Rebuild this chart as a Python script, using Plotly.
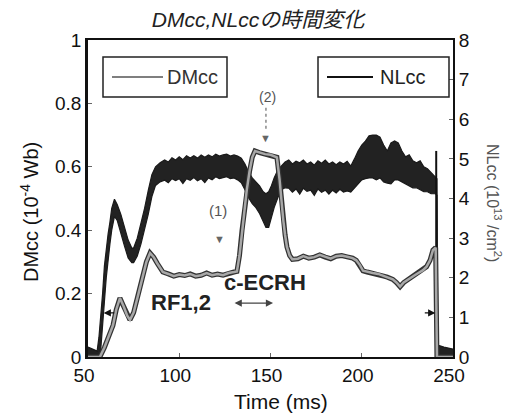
import plotly.graph_objects as go

# ---------------- data ----------------
# NLcc (right axis, 10^13 /cm^2): noisy thick band -> upper / lower edges
nl_t = [50, 53, 55, 56, 57, 58, 59, 60, 61, 62, 63, 64.5, 66, 68, 70, 72, 74, 75, 77, 79, 81, 83, 85, 87, 89.5,
        92, 94, 96, 98, 100, 102, 104, 106, 108, 110, 112, 114, 116, 118, 120, 122, 124, 126, 128, 130, 132, 134,
        136, 138, 140, 142, 144, 146, 147.5, 149, 150.5, 152, 154, 156, 158,
        160, 162, 164, 166, 168, 170, 172, 174, 176, 178, 180, 182, 184, 186, 188, 190, 192, 194,
        196, 198, 200, 202, 204, 206, 208, 210, 212, 214, 216, 218, 220, 222, 224, 226, 228, 230, 232, 234,
        236, 238, 240.5, 241.2, 241.6, 245, 250]
nl_hi = [0.25, 0.2, 0.15, 0.5, 1.0, 1.6, 2.3, 2.8, 3.1, 3.4, 3.75, 3.98, 3.85, 3.6, 3.3, 2.95, 2.75, 2.75, 3.0, 3.35,
         3.75, 4.2, 4.6, 4.8, 4.9,
         4.97, 4.92, 5.03, 4.97, 5.05, 4.98, 5.08, 5.02, 5.08, 5.02, 5.1, 5.04, 5.1, 5.05, 5.12, 5.07, 5.1, 5.12, 5.07,
         5.1, 5.07, 5.02,
         4.87, 4.67, 4.52, 4.42, 4.32, 4.17, 4.12, 4.17, 4.32, 4.52, 4.72, 4.82, 4.92,
         4.97, 4.87, 4.94, 4.9, 4.97, 4.87, 4.92, 4.84, 4.95, 4.89, 4.97, 4.87, 4.92, 4.85, 4.92, 4.87, 4.94, 4.82,
         5.0, 5.2, 5.35, 5.45, 5.58, 5.6, 5.6, 5.55, 5.35, 5.2, 5.4, 5.45, 5.4, 5.2, 5.05, 5.1, 4.95, 4.9, 4.95,
         4.8, 4.75, 4.65, 4.55, 4.5, 0.3, 0.25, 0.2]
nl_lo = [0.0, 0.0, 0.0, 0.0, 0.2, 0.7, 1.4, 2.0, 2.5, 2.85, 3.2, 3.55, 3.45, 3.1, 2.8, 2.5, 2.38, 2.38, 2.55, 2.85,
         3.2, 3.6, 4.05, 4.33, 4.42,
         4.46, 4.4, 4.5, 4.45, 4.5, 4.38, 4.5, 4.46, 4.53, 4.45, 4.5, 4.4, 4.52, 4.47, 4.55, 4.5, 4.53, 4.55, 4.5,
         4.52, 4.47, 4.4,
         4.22, 4.02, 3.87, 3.77, 3.62, 3.42, 3.27, 3.27, 3.52, 3.77, 4.02, 4.22, 4.27,
         4.26, 4.16, 4.24, 4.11, 4.26, 4.18, 4.21, 4.08, 4.24, 4.16, 4.21, 4.11, 4.21, 4.14, 4.23, 4.16, 4.19, 4.16,
         4.27, 4.37, 4.47, 4.5, 4.52, 4.52, 4.47, 4.52, 4.42, 4.39, 4.37, 4.47, 4.47, 4.42, 4.37, 4.32, 4.27, 4.27,
         4.22, 4.17, 4.17, 4.12, 4.12, 4.08, 0.0, 0.0, 0.0]
# thin NLcc spike at the end of the discharge
nl_spike_t = [240.8, 240.8]
nl_spike = [5.2, 0.0]

# DMcc (left axis, 10^-4 Wb)
dm_t = [50, 56.5, 59, 61.5, 63.7, 65.5, 67.5, 69.5, 71.5, 73, 75, 77, 79.6, 82, 84, 86, 88, 91, 94, 97, 100, 103,
        106, 109, 112, 115, 118, 121, 124, 127, 130, 131.6, 133, 134.4, 135.8, 137, 138.5, 140, 141.5, 144, 147,
        150, 153.5, 155, 156, 157, 158, 159, 160.5, 162, 165, 168, 171, 174, 177, 180, 183, 186, 189, 192, 195,
        197, 199, 200.7, 203, 206, 209, 212, 214, 217, 219, 221, 223, 226.4, 229, 231, 233.6, 235.5, 237.4, 239,
        240.5, 241.2, 250]
dm_v = [0, 0, 0.03, 0.065, 0.1, 0.15, 0.186, 0.16, 0.13, 0.117, 0.14, 0.185, 0.245, 0.30, 0.328, 0.315, 0.295,
        0.268, 0.262, 0.255, 0.26, 0.257, 0.262, 0.255, 0.258, 0.265, 0.258, 0.262, 0.258, 0.265, 0.268, 0.27,
        0.32, 0.40, 0.47, 0.527, 0.585, 0.63, 0.65, 0.645, 0.64, 0.638, 0.63, 0.558, 0.49, 0.432, 0.385, 0.347,
        0.32, 0.308, 0.31, 0.318, 0.312, 0.315, 0.322, 0.315, 0.31, 0.318, 0.32, 0.316, 0.312, 0.305, 0.29,
        0.272, 0.268, 0.265, 0.262, 0.255, 0.252, 0.245, 0.235, 0.222, 0.235, 0.249, 0.258, 0.265, 0.274, 0.285,
        0.305, 0.337, 0.345, 0.0, 0.0]

x_ticks = [50, 100, 150, 200, 250]
left_ticks = [0, 0.2, 0.4, 0.6, 0.8, 1]
left_labels = ["0", "0.2", "0.4", "0.6", "0.8", "1"]
right_ticks = [0, 1, 2, 3, 4, 5, 6, 7, 8]

FONT = "Liberation Sans, Arial, sans-serif"

fig = go.Figure()

# NLcc band (yaxis = right axis)
fig.add_trace(go.Scatter(x=nl_t, y=nl_lo, mode="lines", line=dict(color="#1a1a1a", width=1.2),
                         yaxis="y", showlegend=False, hoverinfo="skip"))
fig.add_trace(go.Scatter(x=nl_t, y=nl_hi, mode="lines", line=dict(color="#1a1a1a", width=1.2),
                         fill="tonexty", fillcolor="#222222", yaxis="y", name="NLcc", showlegend=False))
fig.add_trace(go.Scatter(x=nl_spike_t, y=nl_spike, mode="lines", line=dict(color="#111111", width=2),
                         yaxis="y", showlegend=False, hoverinfo="skip"))

# DMcc (yaxis2 = left axis): dark outline + gray core
fig.add_trace(go.Scatter(x=dm_t, y=dm_v, mode="lines", line=dict(color="#333333", width=5),
                         yaxis="y2", showlegend=False, hoverinfo="skip"))
fig.add_trace(go.Scatter(x=dm_t, y=dm_v, mode="lines", line=dict(color="#a8a8a8", width=2.5),
                         yaxis="y2", name="DMcc", showlegend=False))

W, H = 506, 415
L, R, T, B = 88, 53, 40, 58
PW, PH = W - L - R, H - T - B


def px(x):
    return (x - L) / PW


def py(y):
    return (H - B - y) / PH


shapes = [
    # legend boxes
    dict(type="rect", xref="paper", yref="paper", x0=px(103), x1=px(227), y0=py(97), y1=py(57),
         line=dict(color="#222", width=1.5), fillcolor="white"),
    dict(type="line", xref="paper", yref="paper", x0=px(112), x1=px(163), y0=py(77), y1=py(77),
         line=dict(color="#555", width=1.5)),
    dict(type="rect", xref="paper", yref="paper", x0=px(318), x1=px(449), y0=py(97), y1=py(57),
         line=dict(color="#222", width=1.5), fillcolor="white"),
    dict(type="line", xref="paper", yref="paper", x0=px(327), x1=px(373), y0=py(77), y1=py(77),
         line=dict(color="#111", width=2)),
    # dotted guide for (2)
    dict(type="line", xref="x", yref="y2", x0=147.5, x1=147.5, y0=0.72, y1=0.79,
         line=dict(color="#888", width=1.5, dash="dot")),
]

annotations = [
    dict(xref="paper", yref="paper", x=px(165), y=py(77), text="DMcc", showarrow=False,
         xanchor="left", yanchor="middle", font=dict(family=FONT, size=20, color="#333")),
    dict(xref="paper", yref="paper", x=px(378), y=py(77), text="NLcc", showarrow=False,
         xanchor="left", yanchor="middle", font=dict(family=FONT, size=20, color="#222")),
    # axis titles
    dict(xref="paper", yref="paper", x=px(281), y=py(401), text="Time (ms)", showarrow=False,
         xanchor="center", yanchor="middle", font=dict(family=FONT, size=21, color="#111")),
    dict(xref="paper", yref="paper", x=px(29), y=py(212), text="DMcc (10<sup>-4</sup> Wb)", showarrow=False,
         textangle=-90, xanchor="center", yanchor="middle", font=dict(family=FONT, size=20, color="#111")),
    dict(xref="paper", yref="paper", x=px(494), y=py(203), text="NLcc (10<sup>13</sup> /cm<sup>2</sup>)",
         showarrow=False, textangle=90, xanchor="center", yanchor="middle",
         font=dict(family=FONT, size=16, color="#555")),
    # texts
    dict(x=101, y=0.173, xref="x", yref="y2", text="<b>RF1,2</b>", showarrow=False,
         font=dict(family=FONT, size=22, color="#222")),
    dict(x=147, y=0.236, xref="x", yref="y2", text="<b>c-ECRH</b>", showarrow=False,
         font=dict(family=FONT, size=22, color="#222")),
    dict(x=121.2, y=0.461, xref="x", yref="y2", text="(1)", showarrow=False,
         font=dict(family=FONT, size=15, color="#555")),
    dict(x=122.3, y=0.372, xref="x", yref="y2", text="▼", showarrow=False,
         font=dict(family=FONT, size=11, color="#666")),
    dict(x=148.1, y=0.82, xref="x", yref="y2", text="(2)", showarrow=False,
         font=dict(family=FONT, size=14, color="#555")),
    dict(x=147.5, y=0.69, xref="x", yref="y2", text="▼", showarrow=False,
         font=dict(family=FONT, size=11, color="#666")),
    # c-ECRH double arrow
    dict(x=151.4, y=0.17, xref="x", yref="y2", ax=129.5, ay=0.17, axref="x", ayref="y2", text="",
         showarrow=True, arrowside="end+start", arrowhead=2, arrowsize=1.2, arrowwidth=1.2,
         arrowcolor="#444", standoff=0, startstandoff=0),
    # RF1,2 arrows
    dict(x=58.6, y=0.139, xref="x", yref="y2", ax=12, ay=0, text="", showarrow=True,
         arrowhead=2, arrowsize=1.2, arrowwidth=1.2, arrowcolor="#111", standoff=0),
    dict(x=240.3, y=0.139, xref="x", yref="y2", ax=-12, ay=0, text="", showarrow=True,
         arrowhead=2, arrowsize=1.2, arrowwidth=1.2, arrowcolor="#111", standoff=0),
]

fig.update_layout(
    width=W, height=H,
    margin=dict(l=L, r=R, t=T, b=B, pad=0),
    paper_bgcolor="white", plot_bgcolor="white",
    showlegend=False,
    title=dict(text="DMcc,NLccの時間変化", x=258 / W, y=1 - 20 / H, xref="container", yref="container",
               xanchor="center", yanchor="middle",
               font=dict(family="Liberation Sans, Noto Sans CJK JP, sans-serif", size=21, color="#222",
                         style="italic")),
    xaxis=dict(range=[50, 250], tickvals=x_ticks, ticktext=[str(v) for v in x_ticks],
               showline=True, linecolor="#111", linewidth=2, mirror=True, ticks="inside", ticklen=4,
               tickcolor="#666", showgrid=False, zeroline=False,
               tickfont=dict(family=FONT, size=19, color="#111"), ticklabelshift=-4),
    yaxis=dict(range=[0, 8], tickvals=right_ticks, side="right", showline=True, linecolor="#111",
               linewidth=2, ticks="inside", ticklen=4, tickcolor="#666", showgrid=False, zeroline=False,
               tickfont=dict(family=FONT, size=19, color="#111")),
    yaxis2=dict(range=[0, 1], tickvals=left_ticks, ticktext=left_labels, side="left", overlaying="y",
                showline=True, linecolor="#111", linewidth=2.5, ticks="inside", ticklen=4, tickcolor="#666",
                showgrid=False, zeroline=False, tickfont=dict(family=FONT, size=19, color="#111")),
    shapes=shapes,
    annotations=annotations,
)

fig.write_html("out.html")
